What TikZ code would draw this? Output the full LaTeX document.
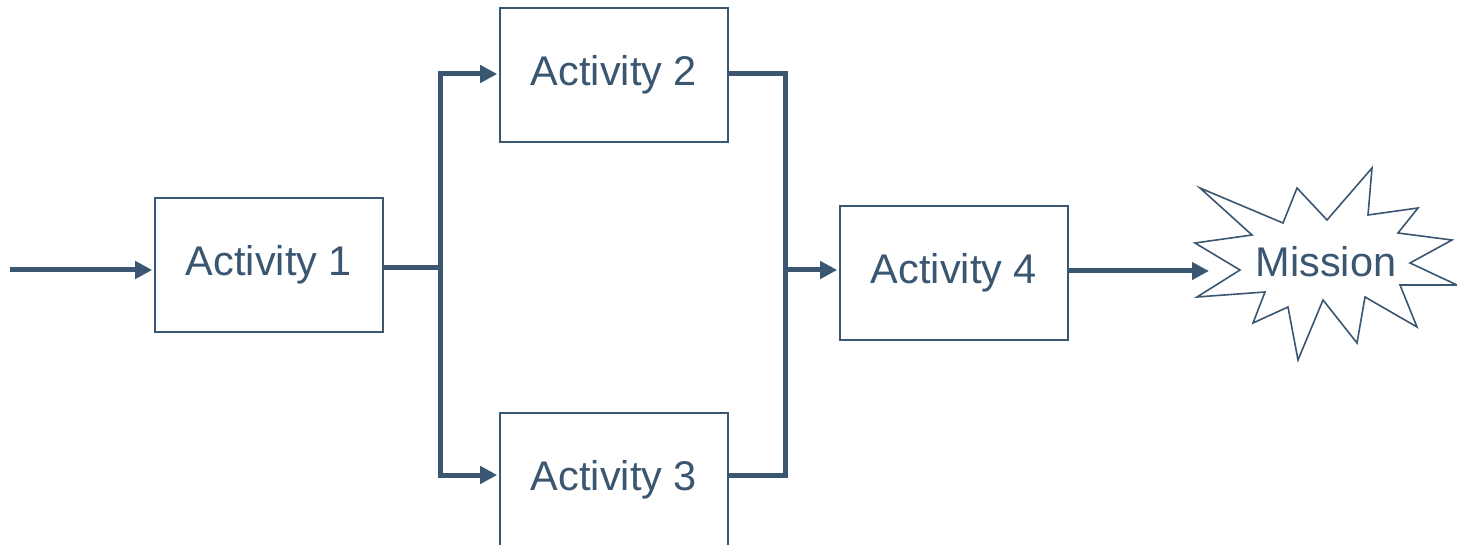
\documentclass[tikz,border=0pt]{standalone}
\usepackage{fontspec}
\setmainfont{Liberation Sans}
\usetikzlibrary{arrows.meta}
\definecolor{ink}{RGB}{59,86,112}
\begin{document}
\begin{tikzpicture}[x=1pt,y=-1pt,
  actbox/.style={draw=ink,line width=1.6pt,fill=white,minimum width=228pt,minimum height=134pt,inner sep=0pt,text=ink,font=\fontsize{41.5}{45}\selectfont},
  flow/.style={draw=ink,line width=5pt},
  flowarrow/.style={flow,-{Triangle[length=17pt,width=17pt]}}]
\useasboundingbox (0,0) rectangle (1457,545);
\fill[white] (0,0) rectangle (1457,545);
% boxes
\node[actbox] (a1) at (269,265) {Activity 1};
\node[actbox] (a2) at (614,75) {Activity 2};
\node[actbox] (a3) at (614,480) {Activity 3};
\node[actbox] (a4) at (954,273) {Activity 4};
% starburst
\draw[ink,line width=1.6pt,fill=white,line join=miter]
  (1200,188) -- (1283,223) -- (1297,188) -- (1327,220) -- (1372,168) -- (1368,215)
  -- (1418,208) -- (1398,233) -- (1452,240) -- (1410,263) -- (1457,285) -- (1400,285)
  -- (1417,327) -- (1365,297) -- (1357,343) -- (1323,300) -- (1298,360) -- (1288,307)
  -- (1253,323) -- (1265,292) -- (1197,297) -- (1240,270) -- (1195,243) -- (1252,235) -- cycle;
\node[text=ink,font=\fontsize{41.5}{45}\selectfont] (mission) at (1326,262) {Mission};
% coordinates
\coordinate (start) at (10,270);
\coordinate (split) at (440,268);
\coordinate (s2) at (440,74);
\coordinate (s3) at (440,475);
\coordinate (j2) at (785,74);
\coordinate (j3) at (785,475);
\coordinate (join) at (785,270);
\coordinate (mtip) at (1209,271);
% connectors
\draw[flowarrow,shorten >=2pt] (start) -- (a1.west |- start);
\draw[flow] (a1.east |- split) -- (split);
\draw[flow,line cap=rect] (s2) -- (s3);
\draw[flowarrow,shorten >=2pt] (s2) -- (a2.west |- s2);
\draw[flowarrow,shorten >=2pt] (s3) -- (a3.west |- s3);
\draw[flow] (a2.east |- j2) -- (j2);
\draw[flow] (a3.east |- j3) -- (j3);
\draw[flow,line cap=rect] (j2) -- (j3);
\draw[flowarrow,shorten >=2pt] (join) -- (a4.west |- join);
\draw[flowarrow] (a4.east |- mtip) -- (mtip);
\end{tikzpicture}
\end{document}
